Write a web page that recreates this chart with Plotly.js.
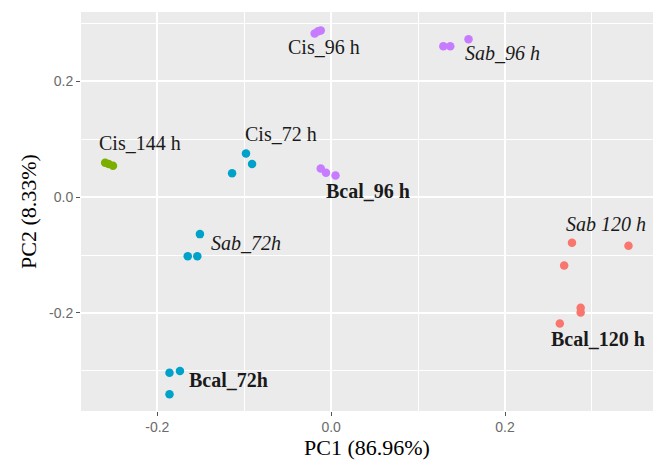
<!DOCTYPE html>
<html>
<head>
<meta charset="utf-8">
<script src="https://cdn.plot.ly/plotly-3.0.1.min.js"></script>
<style>html,body{margin:0;padding:0;background:#fff;}#chart{width:653px;height:460px;}</style>
</head>
<body>
<div id="chart"></div>
<script>
// PCA scores per group
const green_x = [-0.260, -0.256, -0.251];
const green_y = [0.059, 0.057, 0.054];

const blue_x = [-0.098, -0.091, -0.114, -0.151, -0.165, -0.154, -0.186, -0.174, -0.186];
const blue_y = [0.075, 0.057, 0.041, -0.064, -0.102, -0.102, -0.303, -0.300, -0.340];

const purple_x = [-0.019, -0.015, -0.012, -0.012, -0.006, 0.005, 0.129, 0.137, 0.158];
const purple_y = [0.282, 0.286, 0.287, 0.049, 0.042, 0.037, 0.260, 0.260, 0.272];

const red_x = [0.277, 0.342, 0.268, 0.287, 0.287, 0.263];
const red_y = [-0.079, -0.084, -0.118, -0.191, -0.199, -0.218];

// Group labels
const label_text = ['Cis_96 h', 'Cis_144 h', 'Cis_72 h', '<b>Bcal_96 h</b>', '<i>Sab_96 h</i>',
                    '<i>Sab_72h</i>', '<b>Bcal_72h</b>', '<i>Sab 120 h</i>', '<b>Bcal_120 h</b>'];
const label_x = [-0.008, -0.2195, -0.058, 0.0425, 0.197, -0.0985, -0.1186, 0.316, 0.3065];
const label_y = [0.259, 0.0936, 0.1086, 0.0103, 0.248, -0.0798, -0.3155, -0.047, -0.2453];

const xTickVals = [-0.2, 0, 0.2];
const xTickText = ['-0.2', '0.0', '0.2'];
const yTickVals = [-0.2, 0, 0.2];
const yTickText = ['-0.2', '0.0', '0.2'];
const xMinorVals = [-0.3, -0.1, 0.1, 0.3];
const yMinorVals = [-0.3, -0.1, 0.1, 0.3];

const colors = ['#7CAE00', '#00A2C9', '#C77CFF', '#F8766D'];
const groups = [[green_x, green_y], [blue_x, blue_y], [purple_x, purple_y], [red_x, red_y]];

const traces = groups.map((g, i) => ({
  type: 'scatter', mode: 'markers', x: g[0], y: g[1],
  marker: {color: colors[i], size: 8.5, line: {width: 0}},
  showlegend: false, hoverinfo: 'x+y'
}));

const serif = '"Liberation Serif", "Times New Roman", serif';

const annotations = label_text.map((t, i) => ({
  x: label_x[i], y: label_y[i], xref: 'x', yref: 'y', text: t, showarrow: false,
  xanchor: 'center', yanchor: 'middle',
  font: {family: serif, size: 20, color: '#1a1a1a'}
}));

const axisCommon = {
  showline: false, zeroline: false,
  showgrid: true, gridcolor: '#FFFFFF', gridwidth: 1.6,
  ticks: 'outside', ticklen: 4, tickwidth: 1, tickcolor: '#555555',
  tickmode: 'array',
  tickfont: {family: '"Liberation Sans", Arial, sans-serif', size: 14, color: '#6b6b6b'},
};

const layout = {
  width: 653, height: 460,
  margin: {l: 81, r: 0, t: 12, b: 49},
  paper_bgcolor: '#FFFFFF', plot_bgcolor: '#EBEBEB',
  xaxis: Object.assign({}, axisCommon, {
    range: [-0.2878, 0.3702],
    tickvals: xTickVals, ticktext: xTickText,
    ticklabelstandoff: -1,
    minor: {tickmode: 'array', tickvals: xMinorVals, showgrid: true, gridcolor: '#FFFFFF', gridwidth: 0.8, ticks: ''},
    title: {text: 'PC1 (86.96%)', font: {family: serif, size: 22, color: '#000000'}, standoff: 6}
  }),
  yaxis: Object.assign({}, axisCommon, {
    range: [-0.369, 0.319],
    tickvals: yTickVals, ticktext: yTickText,
    minor: {tickmode: 'array', tickvals: yMinorVals, showgrid: true, gridcolor: '#FFFFFF', gridwidth: 0.8, ticks: ''},
    title: {text: 'PC2 (8.33%)', font: {family: serif, size: 22, color: '#000000'}, standoff: 6}
  }),
  annotations: annotations,
  showlegend: false
};

Plotly.newPlot('chart', traces, layout, {displayModeBar: false, responsive: false});
</script>
</body>
</html>
